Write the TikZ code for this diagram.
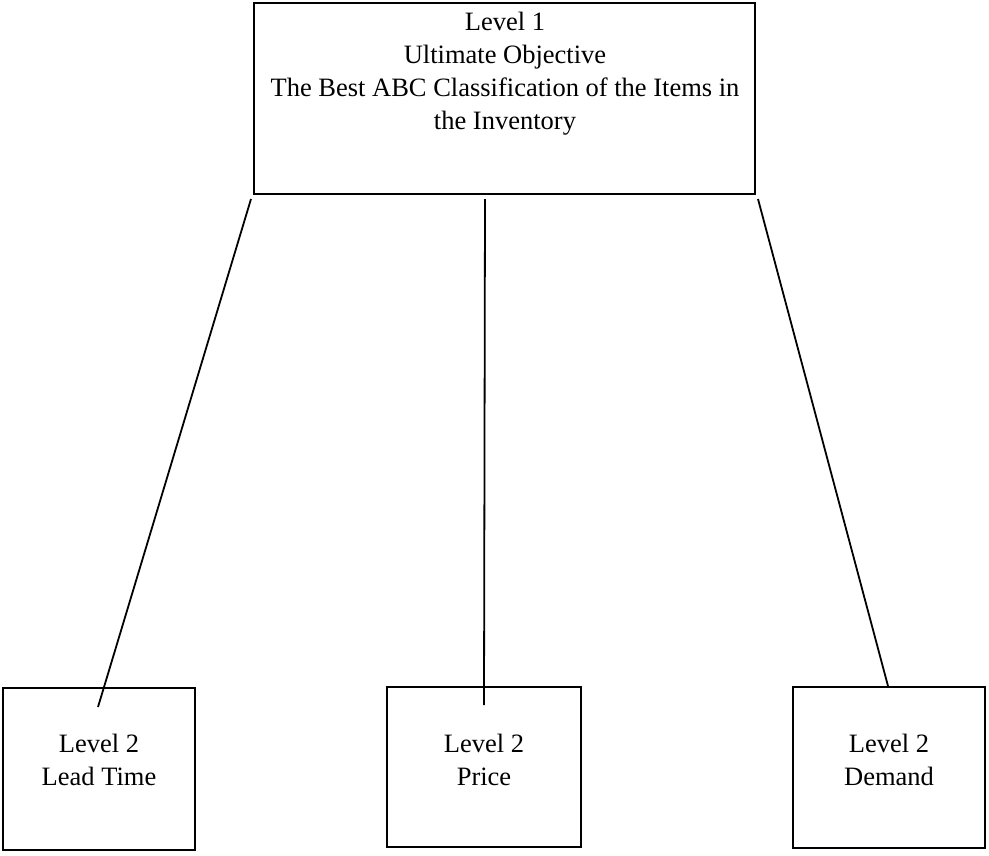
\documentclass[tikz,border=0pt]{standalone}
\usepackage{fontspec}
\setmainfont{Liberation Serif}
\begin{document}
\begin{tikzpicture}[x=1pt,y=-1pt,
  box/.style={draw=black, line width=2pt, rectangle, inner sep=0pt},
  txt/.style={align=center, inner sep=0pt, font=\fontsize{26.5}{33}\selectfont, anchor=north},
  conn/.style={draw=black, line width=1.8pt}]
\useasboundingbox (0,0) rectangle (989,855);
% boxes
\node[box, minimum width=501pt, minimum height=191pt] (top) at (504.5,98.5) {};
\node[box, minimum width=192pt, minimum height=162pt] (lt) at (99,769) {};
\node[box, minimum width=194pt, minimum height=160pt] (pr) at (484,767) {};
\node[box, minimum width=192pt, minimum height=161pt] (rd) at (889,767.5) {};
% texts
\node[txt] (toptxt) at (505,12) {Level 1\\Ultimate Objective\\The Best ABC Classification of the Items in\\the Inventory};
\node[txt] (lttxt) at (99,734) {Level 2\\Lead Time};
\node[txt] (prtxt) at (484,734) {Level 2\\Price};
\node[txt] (rdtxt) at (889,734) {Level 2\\Demand};
% connectors
\draw[conn] ([xshift=-2pt,yshift=-4pt]top.south west) -- ([xshift=-1pt,yshift=-20pt]lt.north);
\draw[conn] ([xshift=-19.5pt,yshift=-4pt]top.south) -- ([yshift=-19pt]pr.north);
\draw[conn] ([xshift=2pt,yshift=-4pt]top.south east) -- ([xshift=-1pt]rd.north);
\end{tikzpicture}
\end{document}
